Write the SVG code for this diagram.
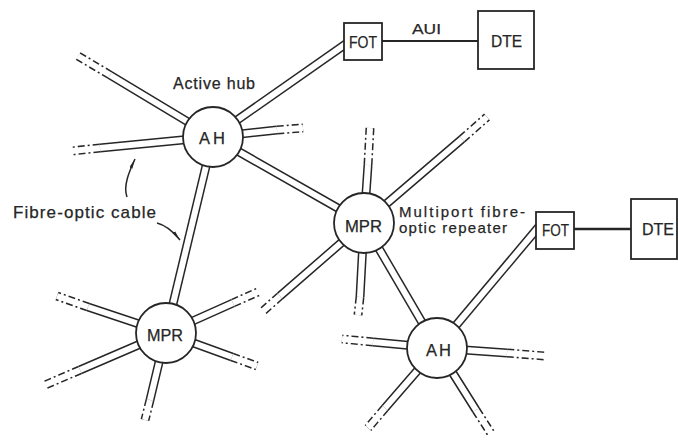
<svg xmlns="http://www.w3.org/2000/svg" width="678" height="440" viewBox="0 0 678 440">
<style>
.o{stroke:#262626;stroke-width:9;fill:none}
.i{stroke:#fff;stroke-width:6;fill:none}
.d{stroke-dasharray:7 3 2 3}
.node{fill:#fff;stroke:#262626;stroke-width:1.8}
.lbl{font-family:"Liberation Sans",Arial,sans-serif;font-size:16px;fill:#262626;stroke:#262626;stroke-width:0.25}
.wire{stroke:#262626;stroke-width:2.2;fill:none}
.lead{fill:none;stroke:#262626;stroke-width:1.5}
</style>
<defs>
<marker id="tip" viewBox="0 0 12 4" refX="12" refY="2" markerWidth="10" markerHeight="3.6" orient="auto" markerUnits="userSpaceOnUse">
<path d="M0,0 L12,2 L0,4z" fill="#262626"/>
</marker>
<path id="t1" d="M213,137 L350,41"/>
<path id="t2" d="M213,137 L364,223"/>
<path id="t3" d="M213,137 L166,333"/>
<path id="t4" d="M364,223 L437,348"/>
<path id="t5" d="M437,348 L542,223"/>
<path id="s" d="M213,137 L110,75 M213,137 L100,148 M213,137 L277,130 M364,223 L368,165 M364,223 L462,139 M364,223 L280,296 M364,223 L360,297 M437,348 L373,342 M437,348 L507,353 M437,348 L385,408 M437,348 L476,410 M166,333 L88,307 M166,333 L80,370 M166,333 L150,400 M166,333 L232,357 M166,333 L233,303"/>
<path id="e" d="M110,75 L78,56 M100,148 L72,151 M277,130 L303,128 M368,165 L370,128 M462,139 L487,117 M280,296 L262,312 M360,297 L358,315 M373,342 L342,339 M507,353 L545,356 M385,408 L368,428 M476,410 L492,435 M88,307 L57,296 M80,370 L45,385 M150,400 L145,420 M232,357 L257,366 M233,303 L260,291"/>
</defs>
<rect width="678" height="440" fill="#fff"/>
<g id="connectors">
<use href="#t1" class="o"/><use href="#t1" class="i"/>
<use href="#t2" class="o"/><use href="#t2" class="i"/>
<use href="#t3" class="o"/><use href="#t3" class="i"/>
<use href="#t4" class="o"/><use href="#t4" class="i"/>
<use href="#t5" class="o"/><use href="#t5" class="i"/>
<use href="#s" class="o"/>
<use href="#e" class="o d"/>
<use href="#s" class="i"/>
<use href="#e" class="i"/>
<path class="wire" d="M382,41 L478,41"/>
<path class="wire" style="stroke-width:2.6" d="M574,229 L631,229"/>
<path class="lead" marker-end="url(#tip)" d="M127,197 C123,186 129,172 135,159"/>
<path class="lead" marker-end="url(#tip)" d="M157,223 C165,225 172,230 180,240"/>
</g>
<g id="AH1"><circle class="node" cx="213" cy="137" r="30"/><text class="lbl" x="199" y="144" style="font-size:16.5px" textLength="26">AH</text></g>
<g id="MPR1"><circle class="node" cx="364" cy="223" r="30"/><text class="lbl" x="345" y="232" style="font-size:17px" textLength="37" lengthAdjust="spacingAndGlyphs">MPR</text></g>
<g id="MPR2"><circle class="node" cx="166" cy="333" r="30"/><text class="lbl" x="147" y="341" style="font-size:17px" textLength="36" lengthAdjust="spacingAndGlyphs">MPR</text></g>
<g id="AH2"><circle class="node" cx="437" cy="348" r="30"/><text class="lbl" x="426" y="356" style="font-size:16.5px" textLength="25">AH</text></g>
<g id="FOT1"><rect class="node" x="344" y="23" width="38" height="37"/><text class="lbl" x="349" y="48" style="font-size:17px" textLength="28" lengthAdjust="spacingAndGlyphs">FOT</text></g>
<g id="DTE1"><rect class="node" x="478" y="11" width="56" height="58"/><text class="lbl" x="491" y="47" textLength="31" lengthAdjust="spacingAndGlyphs">DTE</text></g>
<g id="FOT2"><rect class="node" x="536" y="212" width="38" height="37"/><text class="lbl" x="542" y="236" style="font-size:17px" textLength="27" lengthAdjust="spacingAndGlyphs">FOT</text></g>
<g id="DTE2"><rect class="node" x="631" y="199" width="46" height="60"/><text class="lbl" x="642" y="235" textLength="32" lengthAdjust="spacingAndGlyphs">DTE</text></g>
<g id="labels">
<text class="lbl" x="412" y="34" style="font-size:15px" textLength="29" lengthAdjust="spacingAndGlyphs">AUI</text>
<text class="lbl" x="173" y="89" textLength="82">Active hub</text>
<text class="lbl" x="399" y="217" style="font-size:15px" textLength="126">Multiport fibre-</text>
<text class="lbl" x="399" y="233" style="font-size:15px" textLength="108">optic repeater</text>
<text class="lbl" x="13" y="218" style="font-size:17px" textLength="143">Fibre-optic cable</text>
</g>
</svg>
